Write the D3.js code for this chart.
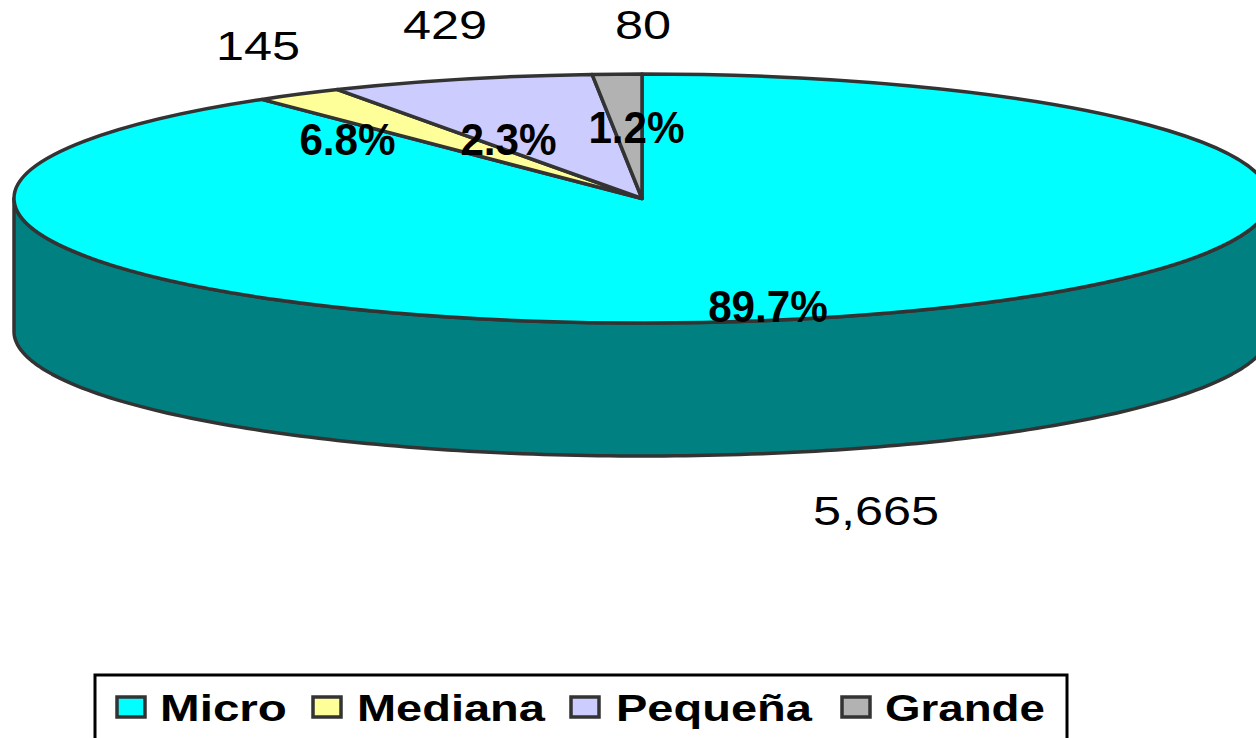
<!DOCTYPE html>
<html><head><meta charset="utf-8">
<script src="https://cdn.jsdelivr.net/npm/d3@7"></script>
<style>html,body{margin:0;padding:0;background:#fff;overflow:hidden}svg{display:block}text{font-family:"Liberation Sans",Arial,sans-serif;fill:#000}</style>
</head><body><svg id="c" width="1256" height="738"></svg>
<script>
const categories = ["Micro","Mediana","Pequeña","Grande"];
const values = [5665,145,429,80];
const valueLabels = ["5,665","145","429","80"];
const percentLabels = ["89.7%","6.8%","2.3%","1.2%"];
const colors = ["#00FFFF","#FFFF99","#CCCCFF","#B2B2B2"];

const cx=642, cy=198.5, rx=628, ry=124.5, depth=133, ink="#333333", lw=3.5;
const valuePos=[[876,525],[258,60],[445,39],[643,39]];
const percentPos=[[768,322],[347.5,155],[508.5,155],[636.5,143]];
const legendItems=[[116,160,287],[312,357,545],[570,616,812],[841,885,1045]];

const svg=d3.select("#c");
const pie=d3.pie().sort(null).value(d=>d)(values);
const arc=d3.arc().innerRadius(0).outerRadius(rx);
const px=d3.scaleLinear().domain([-1,1]).range([cx-rx,cx+rx]);
const py=d3.scaleLinear().domain([-1,1]).range([cy-ry,cy+ry]);

// side wall: front half of the rim, extruded
const front=d3.range(90,270.5,1).map(a=>a*Math.PI/180);
const wall=front.map(a=>[px(Math.sin(a)),py(-Math.cos(a))])
  .concat(front.slice().reverse().map(a=>[px(Math.sin(a)),py(-Math.cos(a))+depth]));
svg.append("path").attr("d",d3.line()(wall)+"Z")
  .attr("fill","#008080").attr("stroke",ink).attr("stroke-width",lw).attr("stroke-linejoin","round");

// top face
svg.append("g").attr("transform",`translate(${cx},${cy}) scale(1,${ry/rx})`)
  .selectAll("path").data(pie).join("path")
  .attr("d",arc).attr("fill",(d,i)=>colors[i])
  .attr("stroke",ink).attr("stroke-width",lw).attr("stroke-linejoin","round")
  .attr("vector-effect","non-scaling-stroke");

// stretched text helper
function stretched(sel,str,x,y,size,weight,sx,anchor){
  return sel.append("text").text(str)
    .attr("transform",`translate(${x},${y}) scale(${sx},1)`)
    .attr("text-anchor",anchor).attr("font-size",size).attr("font-weight",weight);
}
valueLabels.forEach((t,i)=>stretched(svg,t,valuePos[i][0],valuePos[i][1],41,"normal",1.23,"middle"));
percentLabels.forEach((t,i)=>stretched(svg,t,percentPos[i][0],percentPos[i][1],44,"bold",0.96,"middle"));

// legend
svg.append("rect").attr("x",95).attr("y",675).attr("width",972).attr("height",80)
  .attr("fill","#fff").attr("stroke","#000").attr("stroke-width",3);
categories.forEach((c,i)=>{
  const [sw,tx,te]=legendItems[i];
  svg.append("rect").attr("x",sw+1).attr("y",697).attr("width",28).attr("height",20)
    .attr("fill",colors[i]).attr("stroke",ink).attr("stroke-width",3.5);
  const t=stretched(svg,c,tx,721,37,"bold",1,"start");
  const w=t.node().getComputedTextLength();
  t.attr("transform",`translate(${tx},721) scale(${(te-tx)/w},1)`);
});
</script></body></html>
